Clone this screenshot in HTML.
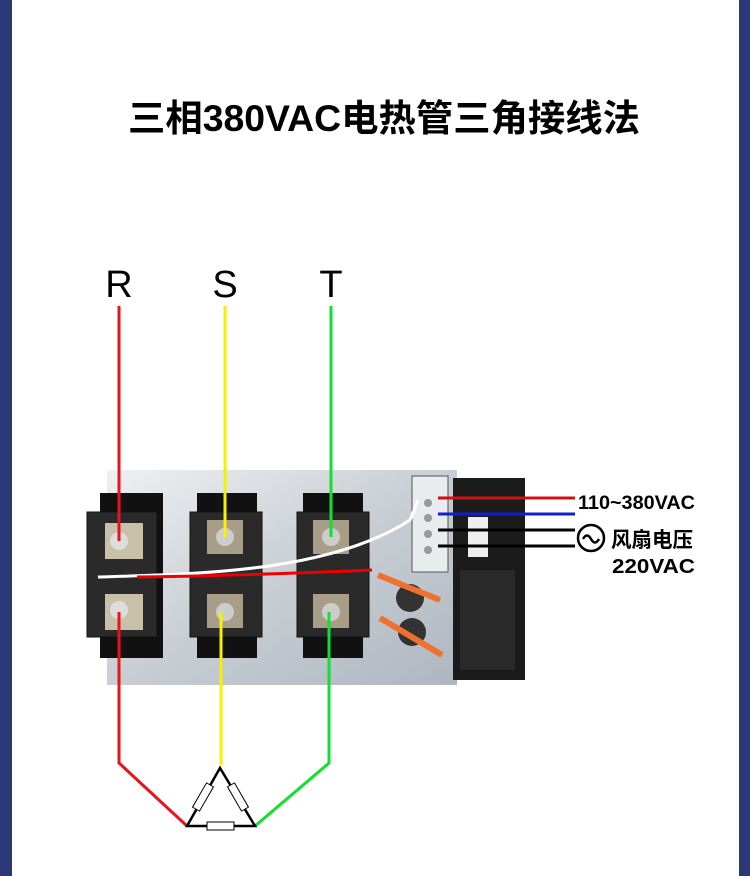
<!DOCTYPE html>
<html><head><meta charset="utf-8"><style>
html,body{margin:0;padding:0;width:750px;height:876px;overflow:hidden;background:#fff}
svg{display:block}
</style></head><body>
<svg width="750" height="876" viewBox="0 0 750 876" xmlns="http://www.w3.org/2000/svg">
<defs>
<linearGradient id="plate" x1="0" y1="0" x2="1" y2="1">
<stop offset="0" stop-color="#eef0f2"/><stop offset="0.5" stop-color="#c9ced4"/><stop offset="1" stop-color="#aeb6c0"/></linearGradient>
</defs>
<rect x="0" y="0" width="12" height="876" fill="#2b3876"/>
<rect x="739" y="0" width="11" height="876" fill="#2b3876"/>
<text x="128" y="131" textLength="512" lengthAdjust="spacingAndGlyphs" font-family="Liberation Sans, Noto Sans CJK SC, sans-serif" font-weight="bold" font-size="37" fill="#000">三相380VAC电热管三角接线法</text>
<g font-family="Liberation Sans, sans-serif" font-size="38" fill="#000" text-anchor="middle">
<text x="119" y="297">R</text><text x="225" y="297">S</text><text x="331" y="297">T</text></g>
<!-- plate -->
<rect x="107" y="470" width="350" height="215" fill="url(#plate)"/>
<!-- fan -->
<rect x="453" y="478" width="72" height="202" fill="#1b1b1b"/>
<rect x="468" y="517" width="20" height="40" fill="#eee"/>
<rect x="460" y="570" width="55" height="100" fill="#2a2a2a"/>
<!-- terminal block -->
<rect x="412" y="476" width="36" height="96" fill="#e9ecef" stroke="#555"/>
<g fill="#999"><circle cx="428" cy="503" r="4"/><circle cx="428" cy="518" r="4"/><circle cx="428" cy="534" r="4"/><circle cx="428" cy="550" r="4"/></g>
<!-- modules -->
<g>
<rect x="100" y="493" width="63" height="165" fill="#111"/>
<rect x="87" y="512" width="70" height="125" fill="#2a2a2a" stroke="#111"/>
<rect x="105" y="523" width="38" height="36" fill="#c8c0a8"/>
<rect x="105" y="594" width="38" height="36" fill="#c8c0a8"/>
<circle cx="119" cy="541" r="9" fill="#ddd"/><circle cx="119" cy="610" r="9" fill="#ddd"/>
<rect x="197" y="493" width="60" height="165" fill="#111"/>
<rect x="190" y="512" width="72" height="125" fill="#2a2a2a" stroke="#111"/>
<rect x="207" y="520" width="36" height="34" fill="#a89e88"/>
<rect x="207" y="594" width="36" height="34" fill="#a89e88"/>
<circle cx="225" cy="537" r="9" fill="#ccc"/><circle cx="225" cy="612" r="9" fill="#ccc"/>
<rect x="303" y="493" width="60" height="165" fill="#111"/>
<rect x="297" y="512" width="72" height="125" fill="#2a2a2a" stroke="#111"/>
<rect x="313" y="520" width="36" height="34" fill="#a89e88"/>
<rect x="313" y="594" width="36" height="34" fill="#a89e88"/>
<circle cx="331" cy="537" r="9" fill="#ccc"/><circle cx="331" cy="612" r="9" fill="#ccc"/>
</g>
<!-- thermostats -->
<circle cx="410" cy="598" r="14" fill="#333"/><circle cx="412" cy="632" r="14" fill="#333"/>
<path d="M378 575 L440 600 M380 618 L442 655" stroke="#f07030" stroke-width="6"/>
<!-- internal wires -->
<path d="M98 577 C200 574 330 572 410 520 L418 500" stroke="#fff" stroke-width="3" fill="none"/>
<path d="M137 577 C220 576 330 572 372 570" stroke="#e00" stroke-width="3" fill="none"/>
<!-- phase wires -->
<path d="M119 306 V541" stroke="#e8141a" stroke-width="3"/>
<path d="M225 306 V537" stroke="#f7f000" stroke-width="3"/>
<path d="M331 306 V537" stroke="#10e030" stroke-width="3"/>
<path d="M119 612 V763 L187 826" stroke="#e8141a" stroke-width="3" fill="none"/>
<path d="M221 612 V765" stroke="#f7f000" stroke-width="3" fill="none"/>
<path d="M329 612 V763 L255 826" stroke="#10e030" stroke-width="3" fill="none"/>
<!-- triangle -->
<path d="M220 768 L187 826 L255 826 Z" stroke="#000" stroke-width="2.5" fill="none"/>
<g fill="#fff" stroke="#000" stroke-width="1">
<rect x="207" y="822" width="27" height="8"/>
<rect x="-4" y="-14" width="8" height="28" transform="translate(203 797) rotate(30)"/>
<rect x="-4" y="-14" width="8" height="28" transform="translate(238 797) rotate(-30)"/>
</g>
<!-- right lines -->
<path d="M438 498 H575" stroke="#d01010" stroke-width="3"/>
<path d="M438 514 H575" stroke="#1020d0" stroke-width="3"/>
<path d="M438 530 H575" stroke="#000" stroke-width="3"/>
<path d="M438 546 H575" stroke="#000" stroke-width="3"/>
<g font-family="Liberation Sans, Noto Sans CJK SC, sans-serif" font-weight="bold" fill="#000">
<text x="578" y="509" font-size="19" textLength="117" lengthAdjust="spacingAndGlyphs">110~380VAC</text>
<text x="611" y="547" font-size="21" textLength="82" lengthAdjust="spacingAndGlyphs">风扇电压</text>
<text x="612" y="573" font-size="20" textLength="83" lengthAdjust="spacingAndGlyphs">220VAC</text>
</g>
<circle cx="591" cy="538" r="13" fill="none" stroke="#000" stroke-width="2.5"/>
<path d="M583 539 q4 -7 8 0 t8 0" stroke="#000" stroke-width="2.5" fill="none"/>
</svg>
</body></html>
